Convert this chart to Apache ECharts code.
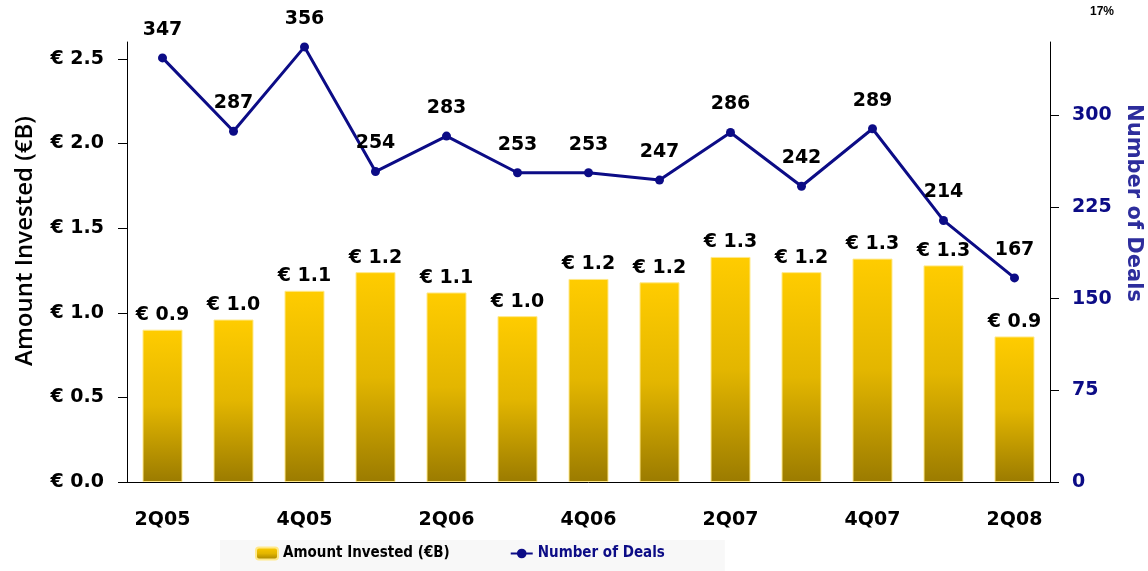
<!DOCTYPE html>
<html>
<head>
<meta charset="utf-8">
<script src="https://cdn.jsdelivr.net/npm/echarts@6/dist/echarts.min.js"></script>
<style>
    html, body { margin: 0; padding: 0; background: #fff; }
    #main { width: 1148px; height: 571px; }
</style>
</head>
<body>
<div id="main"></div>
<script>
// quarters on the x axis
let quarters = ['2Q05', '3Q05', '4Q05', '1Q06', '2Q06', '3Q06', '4Q06',
    '1Q07', '2Q07', '3Q07', '4Q07', '1Q08', '2Q08'];
// amount invested, billions of euro
let amountInvested = [0.90, 0.96, 1.13, 1.24, 1.12, 0.98, 1.20, 1.18, 1.33, 1.24, 1.32, 1.28, 0.86];
// number of deals
let numberOfDeals = [347, 287, 356, 254, 283, 253, 253, 247, 286, 242, 289, 214, 167];
// tick values
let amountTicks = [0, 0.5, 1.0, 1.5, 2.0, 2.5];
let dealTicks = [0, 75, 150, 225, 300];

let navy = '#0c0c86';
let labelFont = 'DejaVu Sans';

let chart = echarts.init(document.getElementById('main'));

let barGradient = new echarts.graphic.LinearGradient(0, 0, 0, 1, [
    { offset: 0, color: '#ffcc00' },
    { offset: 0.5, color: '#e3b600' },
    { offset: 1, color: '#9b7b00' }
]);

let option = {
    animation: false,
    backgroundColor: '#fff',
    grid: {
        left: 127,
        right: 98,
        top: 42,
        bottom: 89,
        outerBoundsMode: 'none'
    },
    graphic: [{
        type: 'text',
        left: 1090,
        top: 6,
        style: {
            text: '17%',
            font: 'bold 12px "Liberation Sans"',
            fill: '#000'
        }
    }],
    legend: {
        left: 220,
        top: 540,
        backgroundColor: '#f8f8f8',
        padding: [6, 60, 12, 35],
        itemGap: 60,
        itemWidth: 22,
        itemHeight: 12,
        textStyle: {
            fontFamily: 'DejaVu Sans Condensed',
            fontWeight: 'bold',
            fontSize: 15
        },
        data: [
            { name: 'Amount Invested (€B)', textStyle: { color: '#000' } },
            { name: 'Number of Deals', textStyle: { color: navy } }
        ]
    },
    xAxis: {
        type: 'category',
        data: quarters,
        axisLine: { lineStyle: { color: '#000', width: 1 } },
        axisTick: { length: 8, lineStyle: { color: '#000' } },
        axisLabel: {
            interval: 1,
            margin: 29,
            color: '#000',
            fontFamily: labelFont,
            fontWeight: 'bold',
            fontSize: 19
        }
    },
    yAxis: [{
        type: 'value',
        min: 0,
        max: 2.6,
        interval: 0.5,
        name: 'Amount Invested (€B)',
        nameLocation: 'middle',
        nameGap: 90,
        nameTextStyle: {
            fontFamily: 'Open Sans',
            fontWeight: 600,
            fontSize: 24,
            color: '#000',
            padding: [0, 0, 0, 42]
        },
        splitLine: { show: false },
        axisLine: { show: true, lineStyle: { color: '#000', width: 1 } },
        axisTick: { show: true, length: 9, customValues: amountTicks, lineStyle: { color: '#000' } },
        axisLabel: {
            customValues: amountTicks,
            margin: 23,
            color: '#000',
            fontFamily: labelFont,
            fontWeight: 'bold',
            fontSize: 19,
            formatter: function (val) {
                return '€ ' + val.toFixed(1);
            }
        }
    }, {
        type: 'value',
        min: 0,
        max: 360,
        interval: 75,
        name: 'Number of Deals',
        nameLocation: 'middle',
        nameRotate: -90,
        nameGap: 72,
        nameTextStyle: {
            fontFamily: labelFont,
            fontWeight: 'bold',
            fontSize: 21,
            color: '#2d2d9c',
            padding: [0, 118, 0, 0]
        },
        splitLine: { show: false },
        axisLine: { show: true, lineStyle: { color: '#000', width: 1 } },
        axisTick: { show: true, length: 9, customValues: dealTicks, lineStyle: { color: '#000' } },
        axisLabel: {
            customValues: dealTicks,
            margin: 22,
            color: navy,
            fontFamily: labelFont,
            fontWeight: 'bold',
            fontSize: 19
        }
    }],
    series: [{
        name: 'Amount Invested (€B)',
        type: 'bar',
        yAxisIndex: 0,
        barWidth: 40,
        data: amountInvested,
        itemStyle: {
            color: barGradient,
            borderColor: '#ffe98a',
            borderWidth: 1
        },
        label: {
            show: true,
            position: 'top',
            distance: 5,
            color: '#000',
            fontFamily: labelFont,
            fontWeight: 'bold',
            fontSize: 19,
            formatter: function (p) {
                return '€ ' + p.value.toFixed(1);
            }
        }
    }, {
        name: 'Number of Deals',
        type: 'line',
        yAxisIndex: 1,
        data: numberOfDeals,
        symbol: 'circle',
        symbolSize: 9,
        lineStyle: { color: navy, width: 3 },
        itemStyle: { color: navy },
        label: {
            show: true,
            position: 'top',
            distance: 14,
            color: '#000',
            fontFamily: labelFont,
            fontWeight: 'bold',
            fontSize: 19
        }
    }]
};

chart.setOption(option);
</script>
</body>
</html>
